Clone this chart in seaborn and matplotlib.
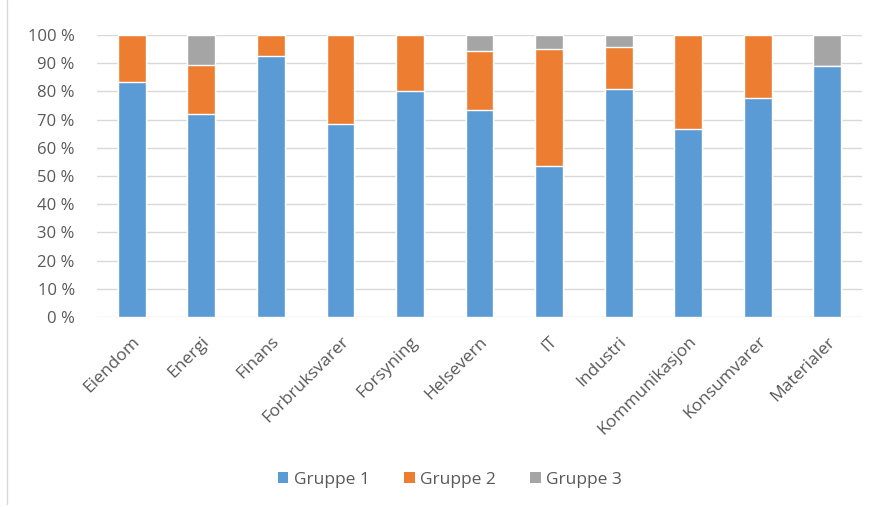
import matplotlib
matplotlib.use("Agg")
import matplotlib.pyplot as plt
from matplotlib.patches import Patch
from matplotlib.lines import Line2D
import pandas as pd
import seaborn as sns

categories = ["Eiendom", "Energi", "Finans", "Forbruksvarer", "Forsyning", "Helsevern",
              "IT", "Industri", "Kommunikasjon", "Konsumvarer", "Materialer"]
gruppe1 = [83.3, 72.1, 92.7, 68.3, 80.1, 73.4, 53.5, 80.8, 66.5, 77.8, 88.9]
gruppe2 = [16.7, 17.4, 7.3, 31.7, 19.9, 21.0, 41.6, 14.9, 33.5, 22.2, 0.0]
gruppe3 = [0.0, 10.5, 0.0, 0.0, 0.0, 5.6, 4.9, 4.3, 0.0, 0.0, 11.1]
series_names = ["Gruppe 1", "Gruppe 2", "Gruppe 3"]
colors = ["#5B9BD5", "#ED7D31", "#A5A5A5"]

df = pd.DataFrame({"kategori": categories, "g1": gruppe1, "g2": gruppe2, "g3": gruppe3})
df["c1"] = df["g1"]
df["c2"] = df["g1"] + df["g2"]
df["c3"] = df["g1"] + df["g2"] + df["g3"]

sns.set_theme(style="white")
plt.rcParams["font.family"] = ["Open Sans", "DejaVu Sans"]
text_color = "#595959"

fig = plt.figure(figsize=(8.77, 5.07), dpi=100)
ax = fig.add_axes([97 / 877, 1 - 317 / 507, 765 / 877, 282 / 507])

# stacked bars: draw cumulative totals from the top down
for col, color in zip(["c3", "c2", "c1"], colors[::-1]):
    sns.barplot(data=df, x="kategori", y=col, color=color, width=0.4,
                saturation=1, ax=ax, zorder=3)

ax.set_xlim(-0.5, len(categories) - 0.5)
ax.set_ylim(0, 100)
ax.set_yticks(range(0, 101, 10))
ax.set_yticklabels([f"{v} %" for v in range(0, 101, 10)])
ax.yaxis.grid(True, color="#D9D9D9", linewidth=1, zorder=0)
ax.set_axisbelow(True)
for s in ax.spines.values():
    s.set_visible(False)
ax.set_xlabel("")
ax.set_ylabel("")
ax.tick_params(axis="y", length=0, pad=16, labelsize=12, labelcolor=text_color)
ax.tick_params(axis="x", length=0, pad=12, labelsize=12.5, labelcolor=text_color)
for lbl in ax.get_xticklabels():
    lbl.set_rotation(45)
    lbl.set_ha("right")
    lbl.set_rotation_mode("anchor")

handles = [Patch(facecolor=c, edgecolor="none") for c in colors]
fig.legend(handles, series_names, loc="center", bbox_to_anchor=(450 / 877, 1 - 480 / 507),
           ncol=3, frameon=False, fontsize=12.5, labelcolor=text_color,
           handlelength=0.6, handleheight=0.6, handletextpad=0.3, columnspacing=2.0)

fig.add_artist(Line2D([7 / 877, 7 / 877], [0.005, 1.0], color="#D9D9D9", linewidth=1,
                      transform=fig.transFigure))

fig.savefig("out.png", dpi=100, facecolor="white")
